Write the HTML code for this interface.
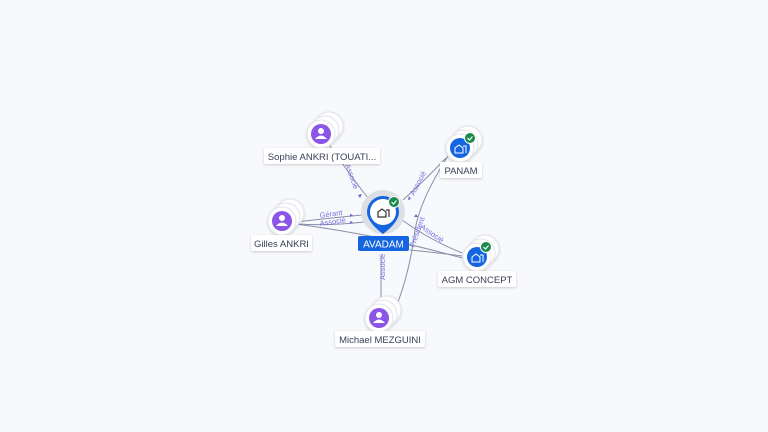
<!DOCTYPE html>
<html><head><meta charset="utf-8"><style>
html,body{margin:0;padding:0;background:#f7f9fc;}
svg{display:block;font-family:"Liberation Sans",sans-serif;}
</style></head><body>
<svg width="768" height="432" viewBox="0 0 768 432">
<rect width="768" height="432" fill="#f7f9fc"/>
<defs>
<filter id="sh" x="-50%" y="-50%" width="200%" height="200%"><feDropShadow dx="0" dy="1" stdDeviation="1.2" flood-color="#000" flood-opacity="0.18"/></filter>
</defs>
<g fill="none" stroke="#8a8fa8" stroke-width="1">
<path d="M330 146 Q350 175 368 198"/>
<path d="M296 222 Q330 218 362 215"/>
<path d="M296 224 Q330 226 364 222"/>
<path d="M296 224 Q380 235 462 258"/>
<path d="M446 158 Q425 180 403 200"/>
<path d="M448 156 Q420 200 415 230 Q410 270 398 302"/>
<path d="M462 253 Q430 240 402 220"/>
<path d="M381 300 L381 256"/>
<path d="M410 250 Q440 253 462 256"/>
</g>
<g fill="#7b6fe0" font-size="7.5">
<text transform="translate(345,165) rotate(70)">Associé</text>
<text x="320" y="218" transform="rotate(-8 320 218)">Gérant</text>
<text x="320" y="226" transform="rotate(-8 320 226)">Associé</text>
<text transform="translate(414,196) rotate(-62)">Associé</text>
<text transform="translate(420,228) rotate(35)">Associé</text>
<text transform="translate(414,248) rotate(-70)">Président</text>
<text transform="translate(385,280) rotate(-90)">Associé</text>
</g>
<g fill="#6b5fd8">
<path d="M358 195 l4 -1 l-2 4z"/><path d="M350 214 l3 1 l-3 2z"/><path d="M350 221 l3 1 l-3 2z"/>
<path d="M411 199 l-3 1 l1 -4z"/><path d="M416 214 l2 3 l-4 0z"/>
</g>
<g filter="url(#sh)" stroke="#e2e4ea" stroke-width="1">
<circle cx="329" cy="126" r="14" fill="#fff"/><circle cx="325" cy="130" r="14" fill="#fff"/><circle cx="321" cy="134" r="14" fill="#fff"/>
<circle cx="290" cy="213" r="14" fill="#fff"/><circle cx="286" cy="217" r="14" fill="#fff"/><circle cx="282" cy="221" r="14" fill="#fff"/>
<circle cx="387" cy="310" r="14" fill="#fff"/><circle cx="383" cy="314" r="14" fill="#fff"/><circle cx="379" cy="318" r="14" fill="#fff"/>
<circle cx="468" cy="140" r="14" fill="#fff"/><circle cx="464" cy="144" r="14" fill="#fff"/><circle cx="460" cy="148" r="14" fill="#fff"/>
<circle cx="485" cy="249" r="14" fill="#fff"/><circle cx="481" cy="253" r="14" fill="#fff"/><circle cx="477" cy="257" r="14" fill="#fff"/>
</g>
<g fill="#8b55e8">
<circle cx="321" cy="134" r="10"/><circle cx="282" cy="221" r="10"/><circle cx="379" cy="318" r="10"/>
</g>
<g fill="#fff">
<circle cx="321" cy="131" r="3"/><path d="M315 139 q6 -7 12 0z"/>
<circle cx="282" cy="218" r="3"/><path d="M276 226 q6 -7 12 0z"/>
<circle cx="379" cy="315" r="3"/><path d="M373 323 q6 -7 12 0z"/>
</g>
<g fill="#1565e0"><circle cx="460" cy="148" r="10"/><circle cx="477" cy="257" r="10"/></g>
<g fill="none" stroke="#fff" stroke-width="1"><path d="M455 153 v-5 l4 -3 l4 3 v5z M463 146 h3 v7"/><path d="M472 262 v-5 l4 -3 l4 3 v5z M480 255 h3 v7"/></g>
<g fill="#1a8a4a" stroke="#fff" stroke-width="1"><circle cx="470" cy="138" r="5.5"/><circle cx="486" cy="247" r="5.5"/></g>
<g fill="none" stroke="#fff" stroke-width="1.2"><path d="M467.5 138 l2 2 l3 -3.5"/><path d="M483.5 247 l2 2 l3 -3.5"/></g>
<circle cx="383" cy="212" r="22" fill="#dcdfe4"/>
<path d="M367 212 a16 16 0 1 1 32 0 q0 10 -16 22 q-16 -12 -16 -22z" fill="#1565e0"/>
<circle cx="383" cy="212" r="13" fill="#fff"/>
<circle cx="394" cy="202" r="5.5" fill="#1a8a4a" stroke="#fff"/><path d="M391.5 202 l2 2 l3 -3.5" fill="none" stroke="#fff" stroke-width="1.2"/>
<path d="M378 217 v-5 l4 -3 l4 3 v5z M386 210 h3 v7" fill="none" stroke="#333" stroke-width="1.2"/>
<rect x="358" y="236" width="51" height="15" rx="2" fill="#1565e0"/>
<text x="383.5" y="247.5" font-size="10" fill="#fff" text-anchor="middle">AVADAM</text>
<g filter="url(#sh)" fill="#fff">
<rect x="264" y="148" width="116" height="16" rx="2"/>
<rect x="440" y="162" width="42" height="16" rx="2"/>
<rect x="251" y="235" width="61" height="16" rx="2"/>
<rect x="438" y="271" width="78" height="16" rx="2"/>
<rect x="335" y="331" width="90" height="16" rx="2"/>
</g>
<g fill="#3a3f55" font-size="9.5" text-anchor="middle">
<text x="322" y="160">Sophie ANKRI (TOUATI...</text>
<text x="461" y="174">PANAM</text>
<text x="281.5" y="247">Gilles ANKRI</text>
<text x="477" y="283">AGM CONCEPT</text>
<text x="380" y="343">Michael MEZGUINI</text>
</g>
</svg>
</body></html>
